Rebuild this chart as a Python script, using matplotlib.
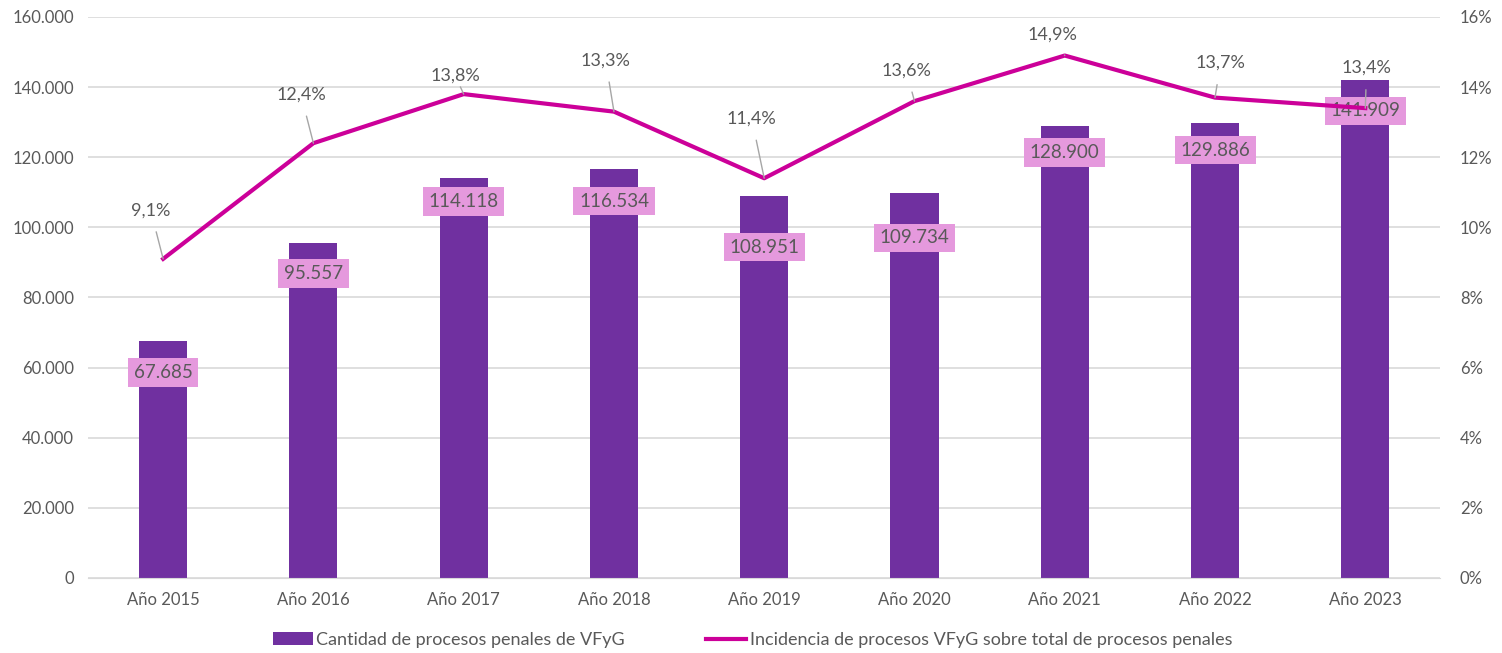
import matplotlib.pyplot as plt
from matplotlib.ticker import FuncFormatter

years = ["Año 2015", "Año 2016", "Año 2017", "Año 2018", "Año 2019",
         "Año 2020", "Año 2021", "Año 2022", "Año 2023"]
cantidad = [67685, 95557, 114118, 116534, 108951, 109734, 128900, 129886, 141909]
incidencia = [9.1, 12.4, 13.8, 13.3, 11.4, 13.6, 14.9, 13.7, 13.4]

# label offsets (points)
pct_offsets = [(-9, 35), (-9, 35), (-6, 13), (-6, 37), (-9, 43),
               (-6, 22), (-9, 15), (4, 25), (1, 29)]
bar_offsets = [-23, -22, -17, -23, -37, -32, -19, -20, -22]

plt.rcParams['font.family'] = ['Lato', 'DejaVu Sans']
grey = "#595959"

fig = plt.figure(figsize=(15.02, 6.53), dpi=100)
ax = fig.add_axes([0.0586, 0.115, 0.9004, 0.859])
ax2 = ax.twinx()

x = list(range(len(years)))
ax.bar(x, cantidad, width=0.32, color="#7030A0", zorder=2,
       label="Cantidad de procesos penales de VFyG")
ax.set_xlim(-0.5, len(years) - 0.5)
ax.set_ylim(0, 160000)
ax.set_yticks(range(0, 160001, 20000))
ax.yaxis.set_major_formatter(FuncFormatter(lambda v, p: f"{int(v):,}".replace(",", ".")))
ax.set_xticks(x)
ax.set_xticklabels(years)
ax.grid(axis="y", color="#D9D9D9", lw=1.2, zorder=0)
ax.set_axisbelow(True)
for s in ["top", "right", "left"]:
    ax.spines[s].set_visible(False)
ax.spines["bottom"].set_color("#D9D9D9")
ax.tick_params(axis="both", length=0, labelsize=12, colors=grey, pad=10)

for xi, v, off in zip(x, cantidad, bar_offsets):
    ax.annotate(f"{v:,}".replace(",", "."), (xi, v), xytext=(0, off),
                textcoords="offset points", ha="center", va="center",
                fontsize=13.5, color=grey, zorder=5,
                bbox=dict(boxstyle="square,pad=0.3", fc="#E599DD", ec="none"))

ax2.plot(x, incidencia, color="#CC0099", lw=3, zorder=3,
         label="Incidencia de procesos VFyG sobre total de procesos penales")
ax2.set_ylim(0, 16)
ax2.set_yticks(range(0, 17, 2))
ax2.yaxis.set_major_formatter(FuncFormatter(lambda v, p: f"{int(v)}%"))
for s in ["top", "right", "left", "bottom"]:
    ax2.spines[s].set_visible(False)
ax2.tick_params(axis="y", length=0, labelsize=12, colors=grey, pad=14)

for xi, v, off in zip(x, incidencia, pct_offsets):
    ax2.annotate(f"{v:.1f}%".replace(".", ","), (xi, v), xytext=off,
                 textcoords="offset points", ha="center", va="center",
                 fontsize=13, color=grey, zorder=6,
                 arrowprops=dict(arrowstyle="-", color="#A6A6A6", lw=1,
                                 shrinkA=8, shrinkB=0))

h1, l1 = ax.get_legend_handles_labels()
h2, l2 = ax2.get_legend_handles_labels()
fig.legend(h1 + h2, l1 + l2, loc="center", bbox_to_anchor=(0.501, 0.02),
           ncol=2, frameon=False, fontsize=13, labelcolor=grey,
           handlelength=2.2, handletextpad=0.2, columnspacing=4.5)

fig.savefig("out.png", dpi=100)
